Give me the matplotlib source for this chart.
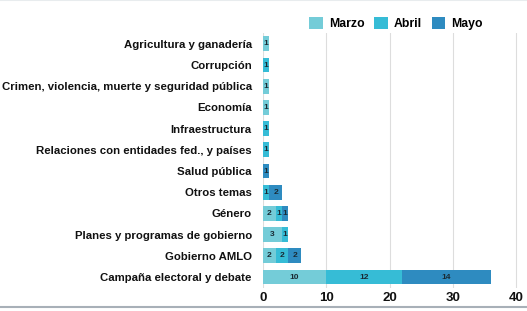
import matplotlib
matplotlib.use("Agg")
import matplotlib.pyplot as plt
from matplotlib.lines import Line2D
import numpy as np

plt.rcParams['font.family'] = ['Liberation Sans', 'DejaVu Sans']

categories = ["Agricultura y ganadería", "Corrupción",
              "Crimen, violencia, muerte y seguridad pública", "Economía",
              "Infraestructura", "Relaciones con entidades fed., y países",
              "Salud pública", "Otros temas", "Género",
              "Planes y programas de gobierno", "Gobierno AMLO",
              "Campaña electoral y debate"]
marzo = [1, 0, 1, 1, 0, 0, 0, 0, 2, 3, 2, 10]
abril = [0, 1, 0, 0, 1, 1, 0, 1, 1, 1, 2, 12]
mayo = [0, 0, 0, 0, 0, 0, 1, 2, 1, 0, 2, 14]
series_names = ["Marzo", "Abril", "Mayo"]
colors = ["#74CCD8", "#36BCD6", "#2E8BC0"]
xticks = [0, 10, 20, 30, 40]

fig = plt.figure(figsize=(5.27, 3.11), dpi=100)
ax = fig.add_axes([0.499, 0.075, 0.483, 0.818])

y = np.arange(len(categories))
left = np.zeros(len(categories))
for name, vals, c in zip(series_names, [marzo, abril, mayo], colors):
    vals = np.array(vals, dtype=float)
    ax.barh(y, vals, left=left, height=0.7, color=c, label=name, zorder=3)
    for yi, v, l in zip(y, vals, left):
        if v > 0:
            ax.text(l + v / 2, yi, f"{int(v)}", ha='center', va='center',
                    fontsize=6, fontweight='bold', color='#1a2a33', zorder=4)
    left += vals

ax.set_ylim(len(categories) - 0.5, -0.5)
ax.set_xlim(0, 40.2)
ax.set_yticks(y)
ax.set_yticklabels(categories, fontsize=8.2, fontweight='bold', color='#111111')
ax.set_xticks(xticks)
ax.set_xticklabels([str(t) for t in xticks], fontsize=9.5, fontweight='bold', color='#111111')
ax.tick_params(axis='both', length=0)
ax.tick_params(axis='x', pad=3)
ax.tick_params(axis='y', pad=8)
for s in ax.spines.values():
    s.set_visible(False)
ax.grid(axis='x', color='#dddddd', linewidth=0.8, zorder=0)

leg = fig.legend(*ax.get_legend_handles_labels(), loc='center left',
                 bbox_to_anchor=(0.578, 0.925), ncol=3, frameon=False,
                 prop={'weight': 'bold', 'size': 8.8}, handlelength=1.1, handleheight=1.1,
                 columnspacing=0.8, handletextpad=0.5, borderaxespad=0.0)

fig.add_artist(Line2D([0, 1], [0.999, 0.999], transform=fig.transFigure, color='#e8ecee', linewidth=1.5))
fig.add_artist(Line2D([0, 1], [0.013, 0.013], transform=fig.transFigure, color='#a8b0b8', linewidth=1.5))

fig.savefig("out.png", dpi=100)
